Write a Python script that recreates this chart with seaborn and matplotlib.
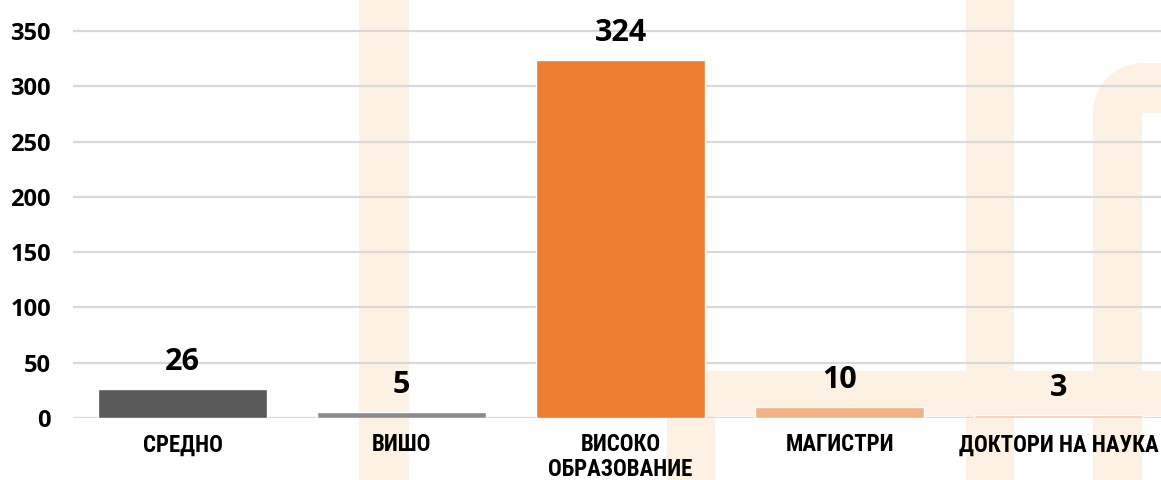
import matplotlib
matplotlib.use("Agg")
import matplotlib.pyplot as plt
import seaborn as sns
import pandas as pd
from matplotlib import font_manager
from matplotlib.patches import Rectangle, Wedge

# Data
categories = ["СРЕДНО", "ВИШО", "ВИСОКО\nОБРАЗОВАНИЕ", "МАГИСТРИ", "ДОКТОРИ НА НАУКА"]
counts = [26, 5, 324, 10, 3]
bar_colors = ["#595959", "#8C8C8C", "#ED7D31", "#F4B183", "#F8CBAD"]
y_ticks = [0, 50, 100, 150, 200, 250, 300, 350]

sns.set_theme(style="white")

available = {f.name for f in font_manager.fontManager.ttflist}


def pick(*names):
    for n in names:
        if n in available:
            return n
    return "DejaVu Sans"


label_font = pick("Liberation Sans Narrow", "Roboto Condensed", "Roboto", "Open Sans")
num_font = pick("Open Sans", "Roboto", "Lato")
plt.rcParams["font.family"] = [num_font, "DejaVu Sans"]

W, H = 1161, 480
fig = plt.figure(figsize=(W / 100, H / 100), dpi=100)
fig.patch.set_facecolor("white")

# Faint background logo strokes (pixel coordinates, origin top-left)
logo = "#FDF1E4"


def band(x0, y0, x1, y1):
    fig.patches.append(Rectangle((x0, H - y1), x1 - x0, y1 - y0, transform=None,
                                 facecolor=logo, edgecolor="none", zorder=-5))


def corner(cx, cy, r):
    fig.patches.append(Wedge((cx, H - cy), r, 90, 180, transform=None,
                             facecolor=logo, edgecolor="none", zorder=-5))


band(359, 0, 409, H)
band(966, 0, 1014, H)
# left "r"
band(667, 416, 715, H)
band(714, 371, W, 416)
corner(714, 418, 47)
# right "r"
band(1093, 112, 1142, H)
band(1142, 63, W, 113)
corner(1143, 113, 50)

ax = fig.add_axes([73 / W, 62 / H, (1168 - 73) / W, 398 / H])
ax.set_facecolor("none")
ax.set_zorder(2)

df = pd.DataFrame({"category": categories, "count": counts})
sns.barplot(data=df, x="category", y="count", hue="category", palette=bar_colors,
            legend=False, width=0.77, saturation=1, ax=ax, zorder=3)

ax.set_xlim(-0.5, len(categories) - 0.5)
ax.set_ylim(0, 360)
ax.set_yticks(y_ticks)
ax.grid(axis="y", color="#D9D9D9", linewidth=1.6, zorder=1)
ax.grid(axis="x", visible=False)
ax.set_axisbelow(True)
for s in ax.spines.values():
    s.set_visible(False)
ax.set_xlabel("")
ax.set_ylabel("")
ax.tick_params(axis="both", length=0)
ax.tick_params(axis="y", pad=16)
ax.tick_params(axis="x", pad=11)

for lbl in ax.get_yticklabels():
    lbl.set_fontfamily(num_font)
    lbl.set_fontweight("bold")
    lbl.set_fontsize(17)
    lbl.set_color("black")

ax.set_xticks(range(len(categories)))
ax.set_xticklabels(categories, fontfamily=label_font, fontweight="bold",
                   fontsize=16.5, color="black", linespacing=1.1)

for i, v in enumerate(counts):
    ax.annotate(str(v), xy=(i, v), xytext=(0, 13.7), textcoords="offset points",
                ha="center", va="baseline", fontsize=22, fontweight="bold",
                fontfamily=num_font, color="black", annotation_clip=False)

fig.savefig("out.png", dpi=100)
